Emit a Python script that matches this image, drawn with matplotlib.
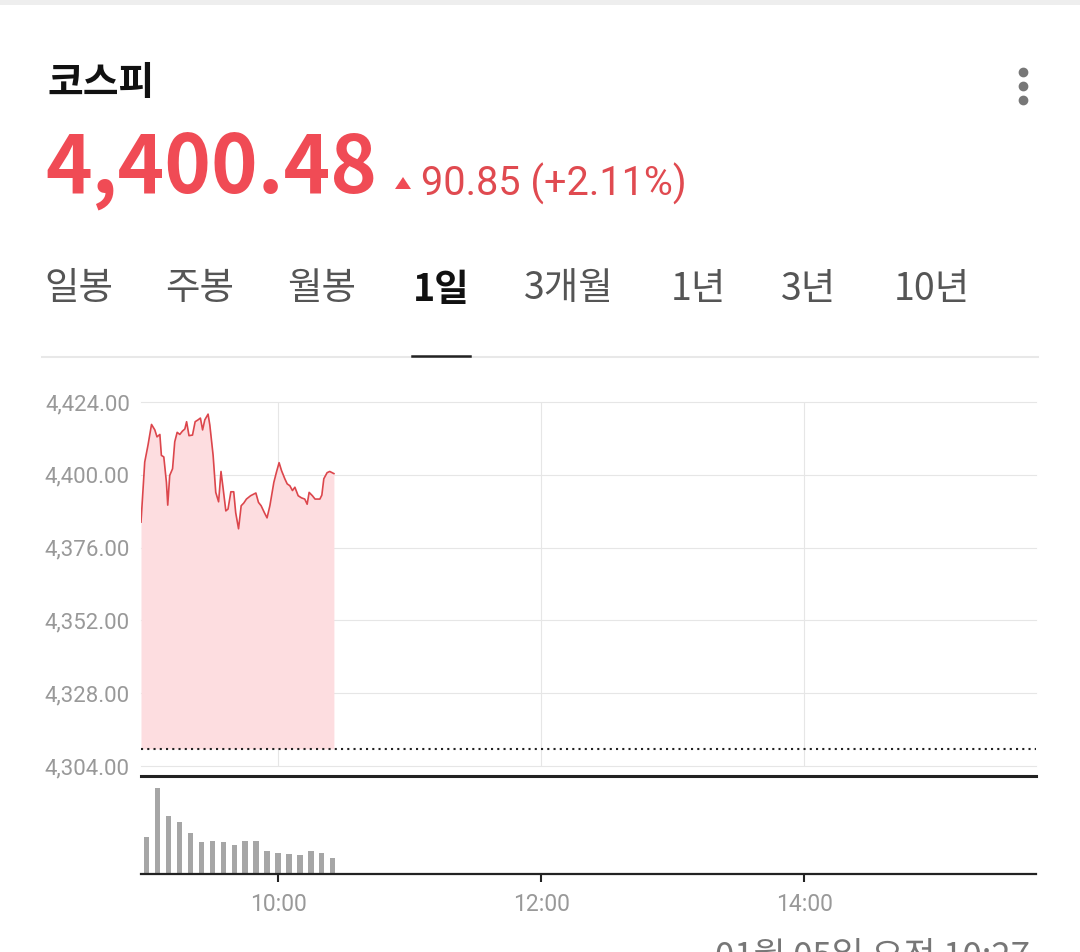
import matplotlib.pyplot as plt
from matplotlib.patches import Rectangle, Polygon
from matplotlib.lines import Line2D

plt.rcParams['font.family'] = ['Noto Sans CJK KR', 'DejaVu Sans']

W, H = 1080, 952

# intraday KOSPI, minutes after 09:00
times = [-2.5, -0.8, 0.7, 2.3, 3.8, 4.8, 6.1, 6.8, 7.9, 9.1, 9.7, 10.6, 11.9, 12.9,
         14.0, 15.2, 16.4, 17.5, 18.3, 19.4, 21.0, 22.2, 23.5, 24.6, 25.6, 26.6,
         28.1, 28.9, 30.4, 31.6, 32.9, 34.0, 35.0, 36.2, 37.2, 38.5, 39.8, 40.7,
         42.0, 43.2, 44.4, 45.6, 47.5, 49.9, 51.1, 52.3, 53.8, 55.0, 56.3, 58.1,
         59.3, 60.5, 61.6, 63.1, 64.2, 65.4, 66.6, 67.7, 69.2, 70.7, 72.2, 73.3,
         74.2, 75.7, 76.9, 79.1, 80.0, 80.9, 82.4, 83.6, 85.5]
prices = [4384.4, 4404.2, 4409.8, 4416.6, 4414.8, 4412.5, 4413.3, 4406.4, 4405.9,
          4397.5, 4390.0, 4399.8, 4402.0, 4410.9, 4414.0, 4413.3, 4414.4, 4415.1,
          4417.5, 4412.9, 4413.1, 4417.5, 4418.1, 4418.7, 4414.8, 4418.1, 4420.0,
          4416.4, 4406.4, 4394.2, 4391.1, 4401.1, 4395.3, 4388.1, 4388.7, 4394.4,
          4394.4, 4387.5, 4382.2, 4389.8, 4390.7, 4392.0, 4393.1, 4394.0, 4390.9,
          4389.8, 4387.5, 4385.8, 4389.8, 4397.5, 4400.9, 4404.0, 4401.4, 4398.7,
          4397.0, 4396.4, 4394.8, 4395.9, 4393.1, 4392.4, 4392.0, 4390.3, 4394.2,
          4393.1, 4392.0, 4392.0, 4393.3, 4398.7, 4400.7, 4401.1, 4400.4]
prev_close = 4309.63

# 5-minute volume bars (relative heights)
vol_times = list(range(0, 90, 5))
volumes = [110, 255, 173, 154, 123, 95, 99, 95, 87, 99, 99, 67, 63, 59, 55, 67, 63, 47]

index_name = '코스피'
last_price = '4,400.48'
change_text = '90.85 (+2.11%)'
tabs = ['일봉', '주봉', '월봉', '1일', '3개월', '1년', '3년', '10년']
active_tab = '1일'
y_ticks = [4304, 4328, 4352, 4376, 4400, 4424]
x_ticks = [60, 180, 300]
x_labels = ['10:00', '12:00', '14:00']
timestamp = '01월 05일 오전 10:27'

RED = '#f04b55'


def fx(x):
    return x / W


def fy(y):
    return 1 - y / H


fig = plt.figure(figsize=(W / 100, H / 100), dpi=100)
fig.patch.set_facecolor('white')

# top strip
fig.add_artist(Rectangle((0, fy(5)), 1, 5 / H, transform=fig.transFigure,
                         color='#eeeeee', lw=0))

# header
fig.text(fx(47), fy(84), index_name, fontsize=28, fontweight='bold', color='#111111', va='center')
fig.text(fx(45), fy(193), last_price, fontsize=57, fontweight='bold', color=RED, va='baseline')
fig.add_artist(Polygon([(fx(395), fy(189)), (fx(411), fy(189)), (fx(403), fy(177))],
                       closed=True, transform=fig.transFigure, color=RED, lw=0))
fig.text(fx(421), fy(196), change_text, fontsize=28.5, color='#e04a50', va='baseline',
         family=['Roboto'])

# menu dots
fig.add_artist(Line2D([fx(1023)] * 3, [fy(72), fy(86), fy(100)], transform=fig.transFigure,
                      marker='o', ms=6, ls='none', color='#777777'))

# period tabs
tab_x = [79, 200, 322, 441, 569, 698, 809, 932]
for name, x in zip(tabs, tab_x):
    if name == active_tab:
        fig.text(fx(x), fy(289), name, fontsize=27, fontweight='bold', color='#111111',
                 ha='center', va='center')
    else:
        fig.text(fx(x), fy(289), name, fontsize=27, color='#555555', ha='center', va='center')
fig.add_artist(Line2D([fx(42), fx(1038)], [fy(356.5)] * 2, transform=fig.transFigure,
                      lw=1.5, color='#e8e8e8'))
fig.add_artist(Line2D([fx(412), fx(470)], [fy(355.5)] * 2, transform=fig.transFigure,
                      lw=1.8, color='#222222'))

# price chart
ax = fig.add_axes([fx(141), fy(766), fx(1036) - fx(141), (766 - 402) / H])
ax.fill_between(times, prices, prev_close, color='#fddde0', lw=0)
ax.plot(times, prices, color='#dc464c', lw=1.2)
ax.axhline(prev_close, color='#222222', lw=1.5, ls=(0, (1, 2)))
ax.set_xlim(-2.5, 405.8)
ax.set_ylim(4304, 4424)
ax.set_yticks(y_ticks)
ax.set_yticklabels([f'{v:,.2f}' for v in y_ticks], family=['Roboto'])
ax.set_xticks(x_ticks)
ax.tick_params(axis='y', length=0, pad=8, labelsize=16, labelcolor='#999999')
ax.tick_params(axis='x', length=0, labelbottom=False)
ax.grid(True, color='#e6e6e6', lw=0.8)
ax.set_axisbelow(True)
for s in ax.spines.values():
    s.set_visible(False)
for gl in ax.get_ygridlines():
    gl.set_clip_on(False)

# volume chart
vax = fig.add_axes([fx(141), fy(874), fx(1036) - fx(141), (874 - 776) / H])
vax.bar(vol_times, volumes, width=2.4, color='#a6a6a6')
vax.set_xlim(-2.5, 405.8)
vax.set_ylim(0, 291)
vax.set_yticks([])
vax.set_xticks(x_ticks)
vax.set_xticklabels(x_labels, family=['Roboto'])
vax.tick_params(axis='x', length=6, width=1.5, color='#222222', pad=8,
                labelsize=16.5, labelcolor='#999999')
vax.spines['left'].set_visible(False)
vax.spines['right'].set_visible(False)
vax.spines['top'].set_linewidth(2.2)
vax.spines['top'].set_color('#222222')
vax.spines['bottom'].set_linewidth(1.6)
vax.spines['bottom'].set_color('#222222')

# timestamp (cut by bottom edge, as in the source screenshot)
fig.text(fx(1030), fy(940), timestamp, fontsize=25, color='#777777', ha='right', va='top')

fig.savefig('out.png', dpi=100)
